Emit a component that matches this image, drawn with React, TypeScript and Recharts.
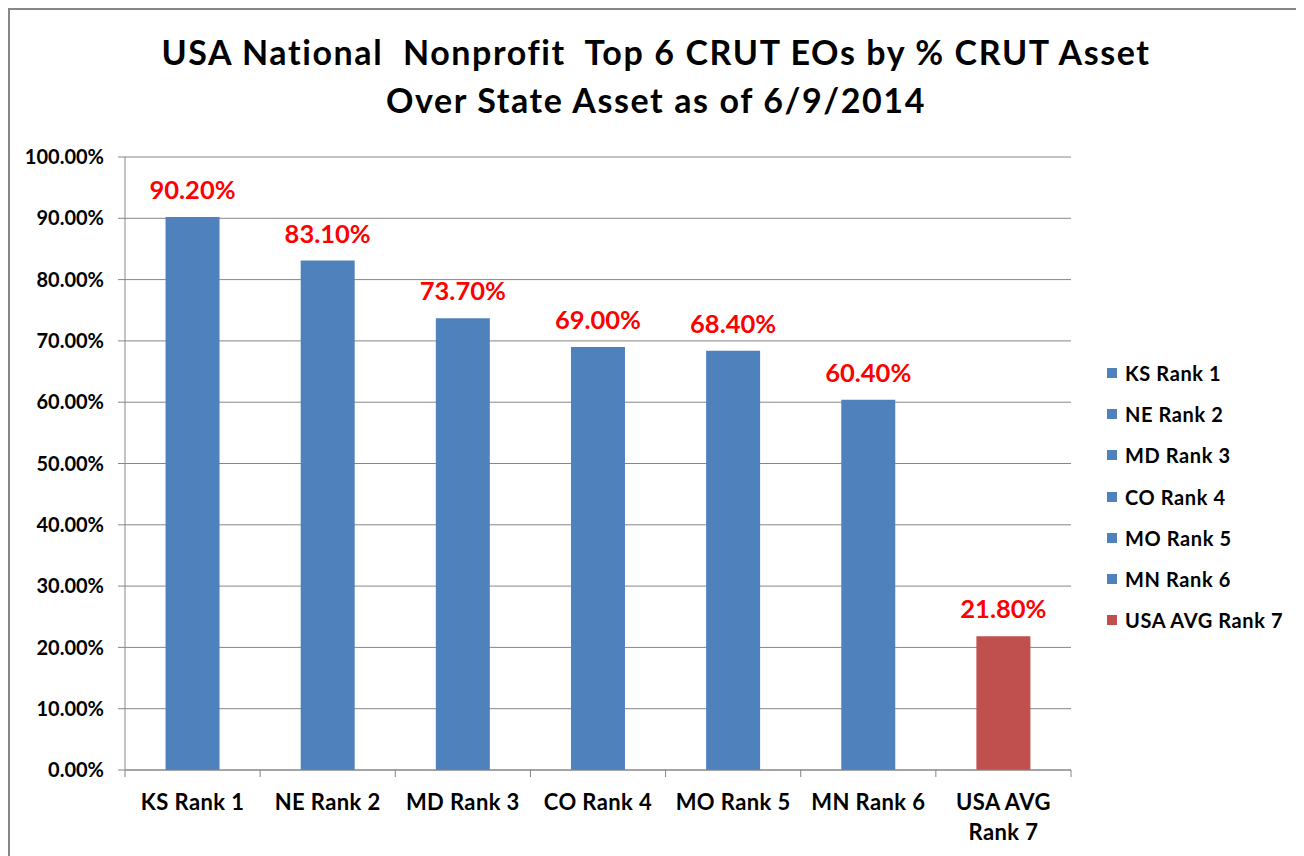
import React from 'react';
import { BarChart, Bar, XAxis, YAxis, CartesianGrid, Cell, LabelList } from 'recharts';

const categories = ['KS Rank 1', 'NE Rank 2', 'MD Rank 3', 'CO Rank 4', 'MO Rank 5', 'MN Rank 6', 'USA AVG Rank 7'];
const values = [90.2, 83.1, 73.7, 69.0, 68.4, 60.4, 21.8];
const barColors = ['#4F81BD', '#4F81BD', '#4F81BD', '#4F81BD', '#4F81BD', '#4F81BD', '#C0504D'];
const yTicks = [0, 10, 20, 30, 40, 50, 60, 70, 80, 90, 100];
const titleLines = ['USA National  Nonprofit  Top 6 CRUT EOs by % CRUT Asset', 'Over State Asset as of 6/9/2014'];

const data = categories.map((name, i) => ({ name, value: values[i], color: barColors[i] }));

const FONT = 'Lato, "Open Sans", sans-serif';
const AXIS = '#868686';

const fmt = (v: number) => `${Number(v).toFixed(2)}%`;

function XTick(props: any) {
  const { x, y, payload, index, visibleTicksCount } = props;
  const half = payload && typeof payload.offset === 'number' && payload.offset > 0 ? payload.offset : 946 / 7 / 2;
  const words = String(payload.value).split(' ');
  const lines = words.length > 3 ? [words.slice(0, -2).join(' '), words.slice(-2).join(' ')] : [words.join(' ')];
  const isLast = index === (visibleTicksCount ?? categories.length) - 1;
  return (
    <g>
      <line x1={x - half} x2={x - half} y1={y} y2={y + 7} stroke={AXIS} strokeWidth={1} />
      {isLast && <line x1={x + half} x2={x + half} y1={y} y2={y + 7} stroke={AXIS} strokeWidth={1} />}
      {lines.map((l, i) => (
        <text
          key={i}
          x={x}
          y={y + 40 + i * 30}
          textAnchor="middle"
          fontFamily={FONT}
          fontWeight="bold"
          fontSize={22}
          letterSpacing={0.4}
          fill="#000"
        >
          {l}
        </text>
      ))}
    </g>
  );
}

export default function App() {
  return (
    <div
      style={{
        position: 'relative',
        width: 1292,
        height: 860,
        borderTop: '2px solid #878787',
        borderLeft: '2px solid #878787',
        borderRight: '1px solid #d4d4d4',
        background: '#fff',
        fontFamily: FONT,
      }}
    >
      <style>{'html,body{overflow:hidden}'}</style>
      <div
        style={{
          position: 'absolute',
          left: 0,
          top: 18,
          width: 1292,
          textAlign: 'center',
          fontSize: 34,
          fontWeight: 'bold',
          letterSpacing: 1.6,
          lineHeight: '48px',
          color: '#000',
          whiteSpace: 'pre',
        }}
      >
        {titleLines.map((t, i) => (
          <div key={i}>{t}</div>
        ))}
      </div>
      <BarChart
        width={1292}
        height={850}
        data={data}
        margin={{ top: 147, right: 231, bottom: 0, left: 0 }}
        barCategoryGap="30%"
      >
        <CartesianGrid vertical={false} stroke={AXIS} strokeWidth={1} />
        <XAxis
          dataKey="name"
          height={90}
          axisLine={{ stroke: AXIS }}
          tickLine={false}
          tickSize={0}
          tickMargin={0}
          interval={0}
          tick={<XTick />}
        />
        <YAxis
          width={115}
          domain={[0, 100]}
          ticks={yTicks}
          interval={0}
          tickFormatter={fmt}
          axisLine={{ stroke: AXIS }}
          tickLine={{ stroke: AXIS }}
          tickSize={7}
          tickMargin={14}
          tick={{ fontFamily: FONT, fontWeight: 'bold', fontSize: 20, fill: '#000' }}
        />
        <Bar dataKey="value" isAnimationActive={false}>
          {data.map((d, i) => (
            <Cell key={i} fill={d.color} />
          ))}
          <LabelList
            dataKey="value"
            position="top"
            offset={18}
            formatter={(v: any) => fmt(v)}
            fill="#FF0000"
            fontFamily={FONT}
            fontWeight="bold"
            fontSize={25.5}
          />
        </Bar>
      </BarChart>
      <div style={{ position: 'absolute', left: 1097, top: 362 - 20, width: 195 }}>
        {data.map((d, i) => (
          <div
            key={i}
            style={{ display: 'flex', alignItems: 'center', height: 41.3, fontSize: 20, letterSpacing: 0.6, fontWeight: 'bold', color: '#000', whiteSpace: 'nowrap' }}
          >
            <span style={{ display: 'inline-block', width: 10, height: 10, background: d.color, marginRight: 8 }} />
            <span>{d.name}</span>
          </div>
        ))}
      </div>
    </div>
  );
}
